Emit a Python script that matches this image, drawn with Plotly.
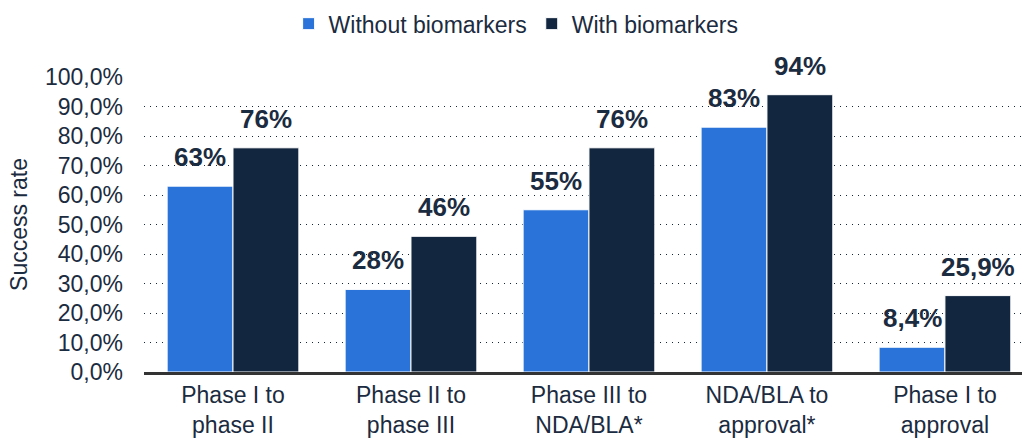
import plotly.graph_objects as go

categories = ["Phase I to<br>phase II", "Phase II to<br>phase III", "Phase III to<br>NDA/BLA*",
              "NDA/BLA to<br>approval*", "Phase I to<br>approval"]
without_biomarkers = [63, 28, 55, 83, 8.4]
with_biomarkers = [76, 46, 76, 94, 25.9]
y_ticks = [0, 10, 20, 30, 40, 50, 60, 70, 80, 90, 100]

BLUE = "#2a74d9"
NAVY = "#12263f"
TEXT = "#1b2b40"
FONT = "Liberation Sans, Arial, sans-serif"
BARGAP = 0.26


def pct_label(v):
    if float(v).is_integer():
        return f"{int(v)}%"
    return f"{v:.1f}%".replace(".", ",")


x_idx = list(range(len(categories)))

fig = go.Figure()
fig.add_trace(go.Bar(
    name="Without biomarkers", x=x_idx, y=without_biomarkers,
    marker=dict(color=BLUE, line=dict(color="white", width=1)),
))
fig.add_trace(go.Bar(
    name="With biomarkers", x=x_idx, y=with_biomarkers,
    marker=dict(color=NAVY, line=dict(color="white", width=1)),
))

# value labels above each bar, placed at the bar centre within its group
bar_w = (1 - BARGAP) / 2
for series, offset in ((without_biomarkers, -bar_w / 2), (with_biomarkers, bar_w / 2)):
    for i, v in zip(x_idx, series):
        fig.add_annotation(
            x=i + offset, y=v, text=f"<b>{pct_label(v)}</b>",
            showarrow=False, yanchor="bottom", yshift=12,
            font=dict(family=FONT, size=26, color=TEXT),
        )

fig.update_layout(
    width=1022, height=439,
    margin=dict(l=144, r=0, t=77, b=67),
    paper_bgcolor="white", plot_bgcolor="white",
    barmode="group", bargap=BARGAP, bargroupgap=0.0,
    font=dict(family=FONT, color=TEXT),
    legend=dict(
        orientation="h", xref="container", x=0.505, xanchor="center",
        yref="container", y=0.995, yanchor="top",
        font=dict(family=FONT, size=23, color=TEXT),
        itemwidth=30, traceorder="normal",
    ),
    xaxis=dict(
        tickvals=x_idx, ticktext=categories, range=[-0.5, 4.433],
        showline=True, linecolor="#333333", linewidth=3,
        showgrid=False, ticks="", automargin=False,
        tickfont=dict(family=FONT, size=23, color=TEXT),
        fixedrange=True,
    ),
    yaxis=dict(
        range=[0, 100], tickvals=y_ticks,
        ticktext=[f"{v:.1f}%".replace(".", ",") for v in y_ticks],
        showgrid=True, gridcolor=NAVY, gridwidth=1, griddash="1px,5px",
        zeroline=False, ticks="", ticklabelstandoff=20,
        tickfont=dict(family=FONT, size=23, color=TEXT),
        title=dict(text="Success rate", font=dict(family=FONT, size=23, color=TEXT), standoff=10),
    ),
)

fig.write_html("out.html")
